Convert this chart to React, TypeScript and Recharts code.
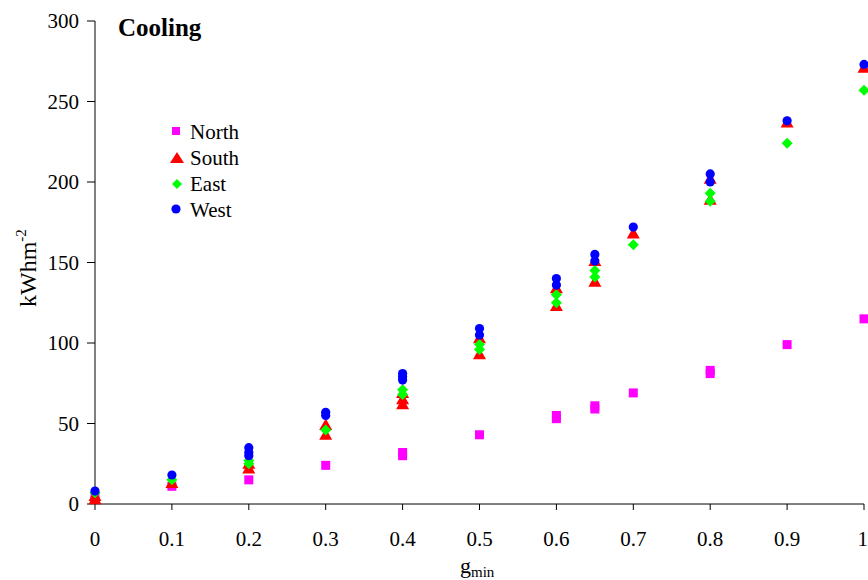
import React from 'react';
import { ScatterChart, Scatter, XAxis, YAxis } from 'recharts';

const xTicks = [0, 0.1, 0.2, 0.3, 0.4, 0.5, 0.6, 0.7, 0.8, 0.9, 1];
const yTicks = [0, 50, 100, 150, 200, 250, 300];

const northPts: [number, number][] = [
  [0, 4], [0.1, 11], [0.2, 15], [0.3, 24], [0.4, 32], [0.4, 30], [0.5, 43],
  [0.6, 55], [0.6, 53], [0.65, 61], [0.65, 59], [0.7, 69], [0.8, 83], [0.8, 81],
  [0.9, 99], [1, 115],
];
const southPts: [number, number][] = [
  [0, 3], [0, 5], [0.1, 13], [0.2, 22], [0.2, 25], [0.3, 43], [0.3, 49],
  [0.4, 62], [0.4, 65], [0.4, 69], [0.5, 93], [0.5, 103], [0.6, 123], [0.6, 134],
  [0.65, 138], [0.65, 151], [0.7, 168], [0.8, 189], [0.8, 202], [0.9, 237], [1, 271],
];
const eastPts: [number, number][] = [
  [0, 7], [0.1, 15], [0.2, 25], [0.2, 27], [0.3, 46], [0.4, 68], [0.4, 71],
  [0.5, 96], [0.5, 99], [0.6, 125], [0.6, 130], [0.65, 141], [0.65, 145],
  [0.7, 161], [0.8, 188], [0.8, 193], [0.9, 224], [1, 257],
];
const westPts: [number, number][] = [
  [0, 8], [0.1, 18], [0.2, 30], [0.2, 32], [0.2, 35], [0.3, 55], [0.3, 57],
  [0.4, 77], [0.4, 79], [0.4, 81], [0.5, 105], [0.5, 109], [0.6, 136], [0.6, 140],
  [0.65, 151], [0.65, 155], [0.7, 172], [0.8, 200], [0.8, 205], [0.9, 238], [1, 273],
];

const toData = (pts: [number, number][]) => pts.map(([x, y]) => ({ x, y }));

const FONT = "'Liberation Serif', 'Times New Roman', serif";

const squareShape = (p: any) => (
  <rect x={p.cx - 4.5} y={p.cy - 4.5} width={9} height={9} fill="#FF00FF" />
);
const triShape = (p: any) => (
  <polygon
    points={`${p.cx},${p.cy - 6.5} ${p.cx + 6.5},${p.cy + 5} ${p.cx - 6.5},${p.cy + 5}`}
    fill="#FF0000"
  />
);
const diamondShape = (p: any) => (
  <polygon
    points={`${p.cx},${p.cy - 5.5} ${p.cx + 5.5},${p.cy} ${p.cx},${p.cy + 5.5} ${p.cx - 5.5},${p.cy}`}
    fill="#00FF00"
  />
);
const circleShape = (p: any) => <circle cx={p.cx} cy={p.cy} r={4.6} fill="#0000FF" />;

const tickStyle = { fontFamily: FONT, fontSize: 21, fill: '#000' };
const txt = { fontFamily: FONT, fill: '#000' };

export default function App() {
  return (
    <div style={{ position: 'absolute', left: 0, top: 0, width: 868, height: 580, background: '#fff' }}>
      <ScatterChart width={868} height={580} margin={{ top: 21, right: 4, bottom: 0, left: 0 }}>
        <XAxis
          type="number"
          dataKey="x"
          domain={[0, 1]}
          ticks={xTicks}
          tickFormatter={(v: number) => String(v)}
          height={76}
          stroke="#000"
          tickSize={6}
          tickMargin={21}
          tick={tickStyle}
        />
        <YAxis
          type="number"
          dataKey="y"
          domain={[0, 300]}
          ticks={yTicks}
          width={95}
          stroke="#000"
          tickSize={8}
          tickMargin={8}
          tick={tickStyle}
        />
        <Scatter name="North" data={toData(northPts)} shape={squareShape} isAnimationActive={false} />
        <Scatter name="South" data={toData(southPts)} shape={triShape} isAnimationActive={false} />
        <Scatter name="East" data={toData(eastPts)} shape={diamondShape} isAnimationActive={false} />
        <Scatter name="West" data={toData(westPts)} shape={circleShape} isAnimationActive={false} />
      </ScatterChart>
      <svg
        width={868}
        height={580}
        style={{ position: 'absolute', left: 0, top: 0, pointerEvents: 'none' }}
      >
        <text x={118} y={36} style={{ ...txt, fontSize: 25, fontWeight: 'bold' }}>Cooling</text>
        <rect x={172} y={127} width={8} height={8} fill="#FF00FF" />
        <text x={190} y={139} style={{ ...txt, fontSize: 21 }}>North</text>
        <polygon points="177,152 184,163 170,163" fill="#FF0000" />
        <text x={190} y={165} style={{ ...txt, fontSize: 21 }}>South</text>
        <polygon points="177,179 182,184 177,189 172,184" fill="#00FF00" />
        <text x={190} y={191} style={{ ...txt, fontSize: 21 }}>East</text>
        <circle cx={176} cy={209} r={4.6} fill="#0000FF" />
        <text x={190} y={217} style={{ ...txt, fontSize: 21 }}>West</text>
        <text transform="translate(36,307) rotate(-90)" style={{ ...txt, fontSize: 24 }}>
          kWhm<tspan dy={-10} style={{ fontSize: 15 }}>-2</tspan>
        </text>
        <text x={460} y={573} style={{ ...txt, fontSize: 22 }}>
          g<tspan dy={4} style={{ fontSize: 15 }}>min</tspan>
        </text>
      </svg>
    </div>
  );
}
